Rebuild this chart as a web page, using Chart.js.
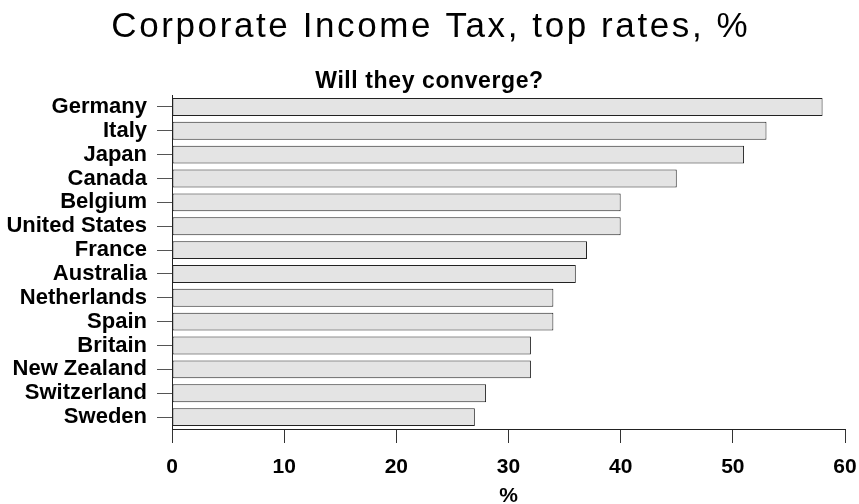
<!DOCTYPE html>
<html>
<head>
<meta charset="utf-8">
<script src="https://cdn.jsdelivr.net/npm/chart.js@4"></script>
<style>
  html, body { margin: 0; padding: 0; background: #fff; }
  #wrap { width: 859px; height: 504px; }
</style>
</head>
<body>
<div id="wrap"><canvas id="taxChart" width="859" height="504"></canvas></div>
<script>
const countries = ['Germany', 'Italy', 'Japan', 'Canada', 'Belgium', 'United States', 'France',
  'Australia', 'Netherlands', 'Spain', 'Britain', 'New Zealand', 'Switzerland', 'Sweden'];
const topRates = [58, 53, 51, 45, 40, 40, 37, 36, 34, 34, 32, 32, 28, 27];
const xTicks = [0, 10, 20, 30, 40, 50, 60];

const chartTitle = 'Corporate Income Tax, top rates, %';
const chartSubtitle = 'Will they converge?';

const FONT = "'Liberation Sans', Arial, sans-serif";

// title + subtitle are drawn by hand so the wide letter spacing of the original can be kept
const titlesPlugin = {
  id: 'titles',
  afterDraw(chart) {
    const c = chart.ctx;
    const cx = chart.width / 2;
    c.save();
    c.fillStyle = '#000';
    c.textAlign = 'center';
    c.textBaseline = 'alphabetic';
    c.font = '35px ' + FONT;
    c.letterSpacing = '2.6px';
    c.fillText(chartTitle, cx + 1.3, 37);
    c.font = 'bold 23px ' + FONT;
    c.letterSpacing = '0.6px';
    c.fillText(chartSubtitle, cx, 88);
    c.restore();
  }
};

const ctx = document.getElementById('taxChart');
new Chart(ctx, {
  type: 'bar',
  data: {
    labels: countries,
    datasets: [{
      label: 'Top rate',
      data: topRates,
      backgroundColor: '#e4e4e4',
      borderColor: '#222',
      borderWidth: 1,
      borderSkipped: false,
      barPercentage: 0.75,
      categoryPercentage: 1.0
    }]
  },
  plugins: [titlesPlugin],
  options: {
    indexAxis: 'y',
    responsive: false,
    animation: false,
    layout: { padding: { left: 0, right: 14, top: 95, bottom: 0 } },
    plugins: {
      legend: { display: false },
      tooltip: { enabled: false },
      title: { display: false }
    },
    scales: {
      x: {
        type: 'linear',
        min: 0,
        max: 60,
        afterBuildTicks: function(scale) {
          scale.ticks = xTicks.map(v => ({ value: v }));
        },
        afterFit: function(scale) {
          scale.height = 75;
          scale.paddingLeft = 0;
          scale.paddingRight = 0;
        },
        border: { display: true, color: '#222', width: 1 },
        grid: { drawOnChartArea: false, drawTicks: true, tickLength: 14, color: '#333' },
        ticks: {
          color: '#000',
          padding: 12,
          maxRotation: 0,
          font: { family: FONT, size: 21, weight: 'bold' }
        },
        title: {
          display: true,
          text: '%',
          color: '#000',
          padding: { top: 0, bottom: -3 },
          font: { family: FONT, size: 21, weight: 'bold', lineHeight: 1 }
        }
      },
      y: {
        afterFit: function(scale) { scale.width = 172; },
        border: { display: true, color: '#222', width: 1 },
        grid: { drawOnChartArea: false, drawTicks: true, tickLength: 15, color: '#555', offset: false },
        ticks: {
          color: '#000',
          padding: 10,
          autoSkip: false,
          font: { family: FONT, size: 22, weight: 'bold' }
        }
      }
    }
  }
});
</script>
</body>
</html>
